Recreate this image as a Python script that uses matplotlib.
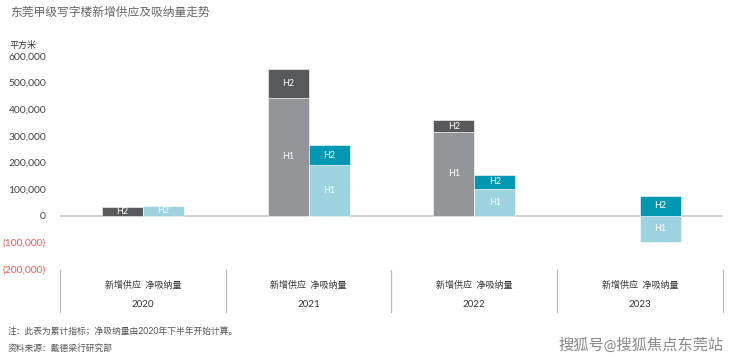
import numpy as np
import matplotlib.pyplot as plt

plt.rcParams['font.family'] = ['Lato', 'Noto Sans CJK SC', 'DejaVu Sans']

# data (sq m)
years = ['2020', '2021', '2022', '2023']
supply_h1 = [0, 442000, 315000, 0]
supply_h2 = [32000, 109000, 43000, 0]
net_h1 = [0, 189000, 101000, -97000]
net_h2 = [37000, 75000, 52000, 76000]
y_ticks = [600000, 500000, 400000, 300000, 200000, 100000, 0, -100000, -200000]

c_sup1, c_sup2 = '#939598', '#58595b'
c_net1, c_net2 = '#9dd3df', '#0097b2'

fig = plt.figure(figsize=(7.4, 3.61), dpi=100)
W, H = 740, 361
ax = fig.add_axes([60 / W, 1 - 269 / H, 663 / W, 213 / H])

x = np.arange(len(years))
bw = 0.247
off = bw / 2


def draw_stack(xpos, h1, h2, c1, c2s):
    for xi, a, b, c2 in zip(xpos, h1, h2, c2s):
        if a != 0:
            ax.bar(xi, a, bw, color=c1, edgecolor='white', linewidth=0.4, zorder=2)
            ax.text(xi, a / 2, 'H1', color='white', ha='center', va='center', fontsize=6.5, zorder=3)
        if b != 0:
            base = max(a, 0)
            ax.bar(xi, b, bw, bottom=base, color=c2, edgecolor='white', linewidth=0.4, zorder=2)
            ax.text(xi, base + b / 2, 'H2', color='white', ha='center', va='center', fontsize=6.5, zorder=3)


draw_stack(x - off, supply_h1, supply_h2, c_sup1, [c_sup2] * 4)
# 2020 net absorption (H2 only) is shown in the light colour
draw_stack(x + off, net_h1, net_h2, c_net1, [c_net1, c_net2, c_net2, c_net2])

ax.set_xlim(-0.5, 3.5)
ax.set_ylim(-200000, 600000)
ax.axhline(0, color='#c8c8c8', linewidth=1.2, zorder=1)
for s in ax.spines.values():
    s.set_visible(False)
ax.set_xticks([])
ax.set_yticks(y_ticks)
ax.tick_params(axis='y', length=0, pad=10)
ax.set_yticklabels([f'{v:,}' if v >= 0 else f'({-v:,})' for v in y_ticks], fontsize=7.5)
for lab, v in zip(ax.get_yticklabels(), y_ticks):
    lab.set_color('#ee5a55' if v < 0 else '#444444')

# category area below the axis
tr = ax.get_xaxis_transform()
for b in np.arange(-0.5, 4.0, 1.0):
    ax.plot([b, b], [-0.005, -0.20], transform=tr, color='#bbbbbb', linewidth=0.9, clip_on=False)
for xi, yr in zip(x, years):
    ax.text(xi, -0.075, '新增供应  净吸纳量', transform=tr, ha='center', va='center',
            fontsize=6.5, color='#333333')
    ax.text(xi, -0.169, yr, transform=tr, ha='center', va='center', fontsize=7, color='#333333')

fig.text(10 / W, 1 - 12 / H, '东莞甲级写字楼新增供应及吸纳量走势', fontsize=8.5, color='#666666',
         ha='left', va='center')
fig.text(10 / W, 1 - 45 / H, '平方米', fontsize=6.5, color='#333333', ha='left', va='center')
fig.text(8 / W, 1 - 332 / H, '注：此表为累计指标；净吸纳量由2020年下半年开始计算。', fontsize=6.3,
         color='#555555', ha='left', va='center')
fig.text(8 / W, 1 - 348 / H, '资料来源：戴德梁行研究部', fontsize=6.3, color='#555555',
         ha='left', va='center')
fig.text(723 / W, 1 - 345 / H, '搜狐号@搜狐焦点东莞站', fontsize=11, color='#8a8a8a',
         ha='right', va='center')

fig.savefig('out.png', dpi=100)
